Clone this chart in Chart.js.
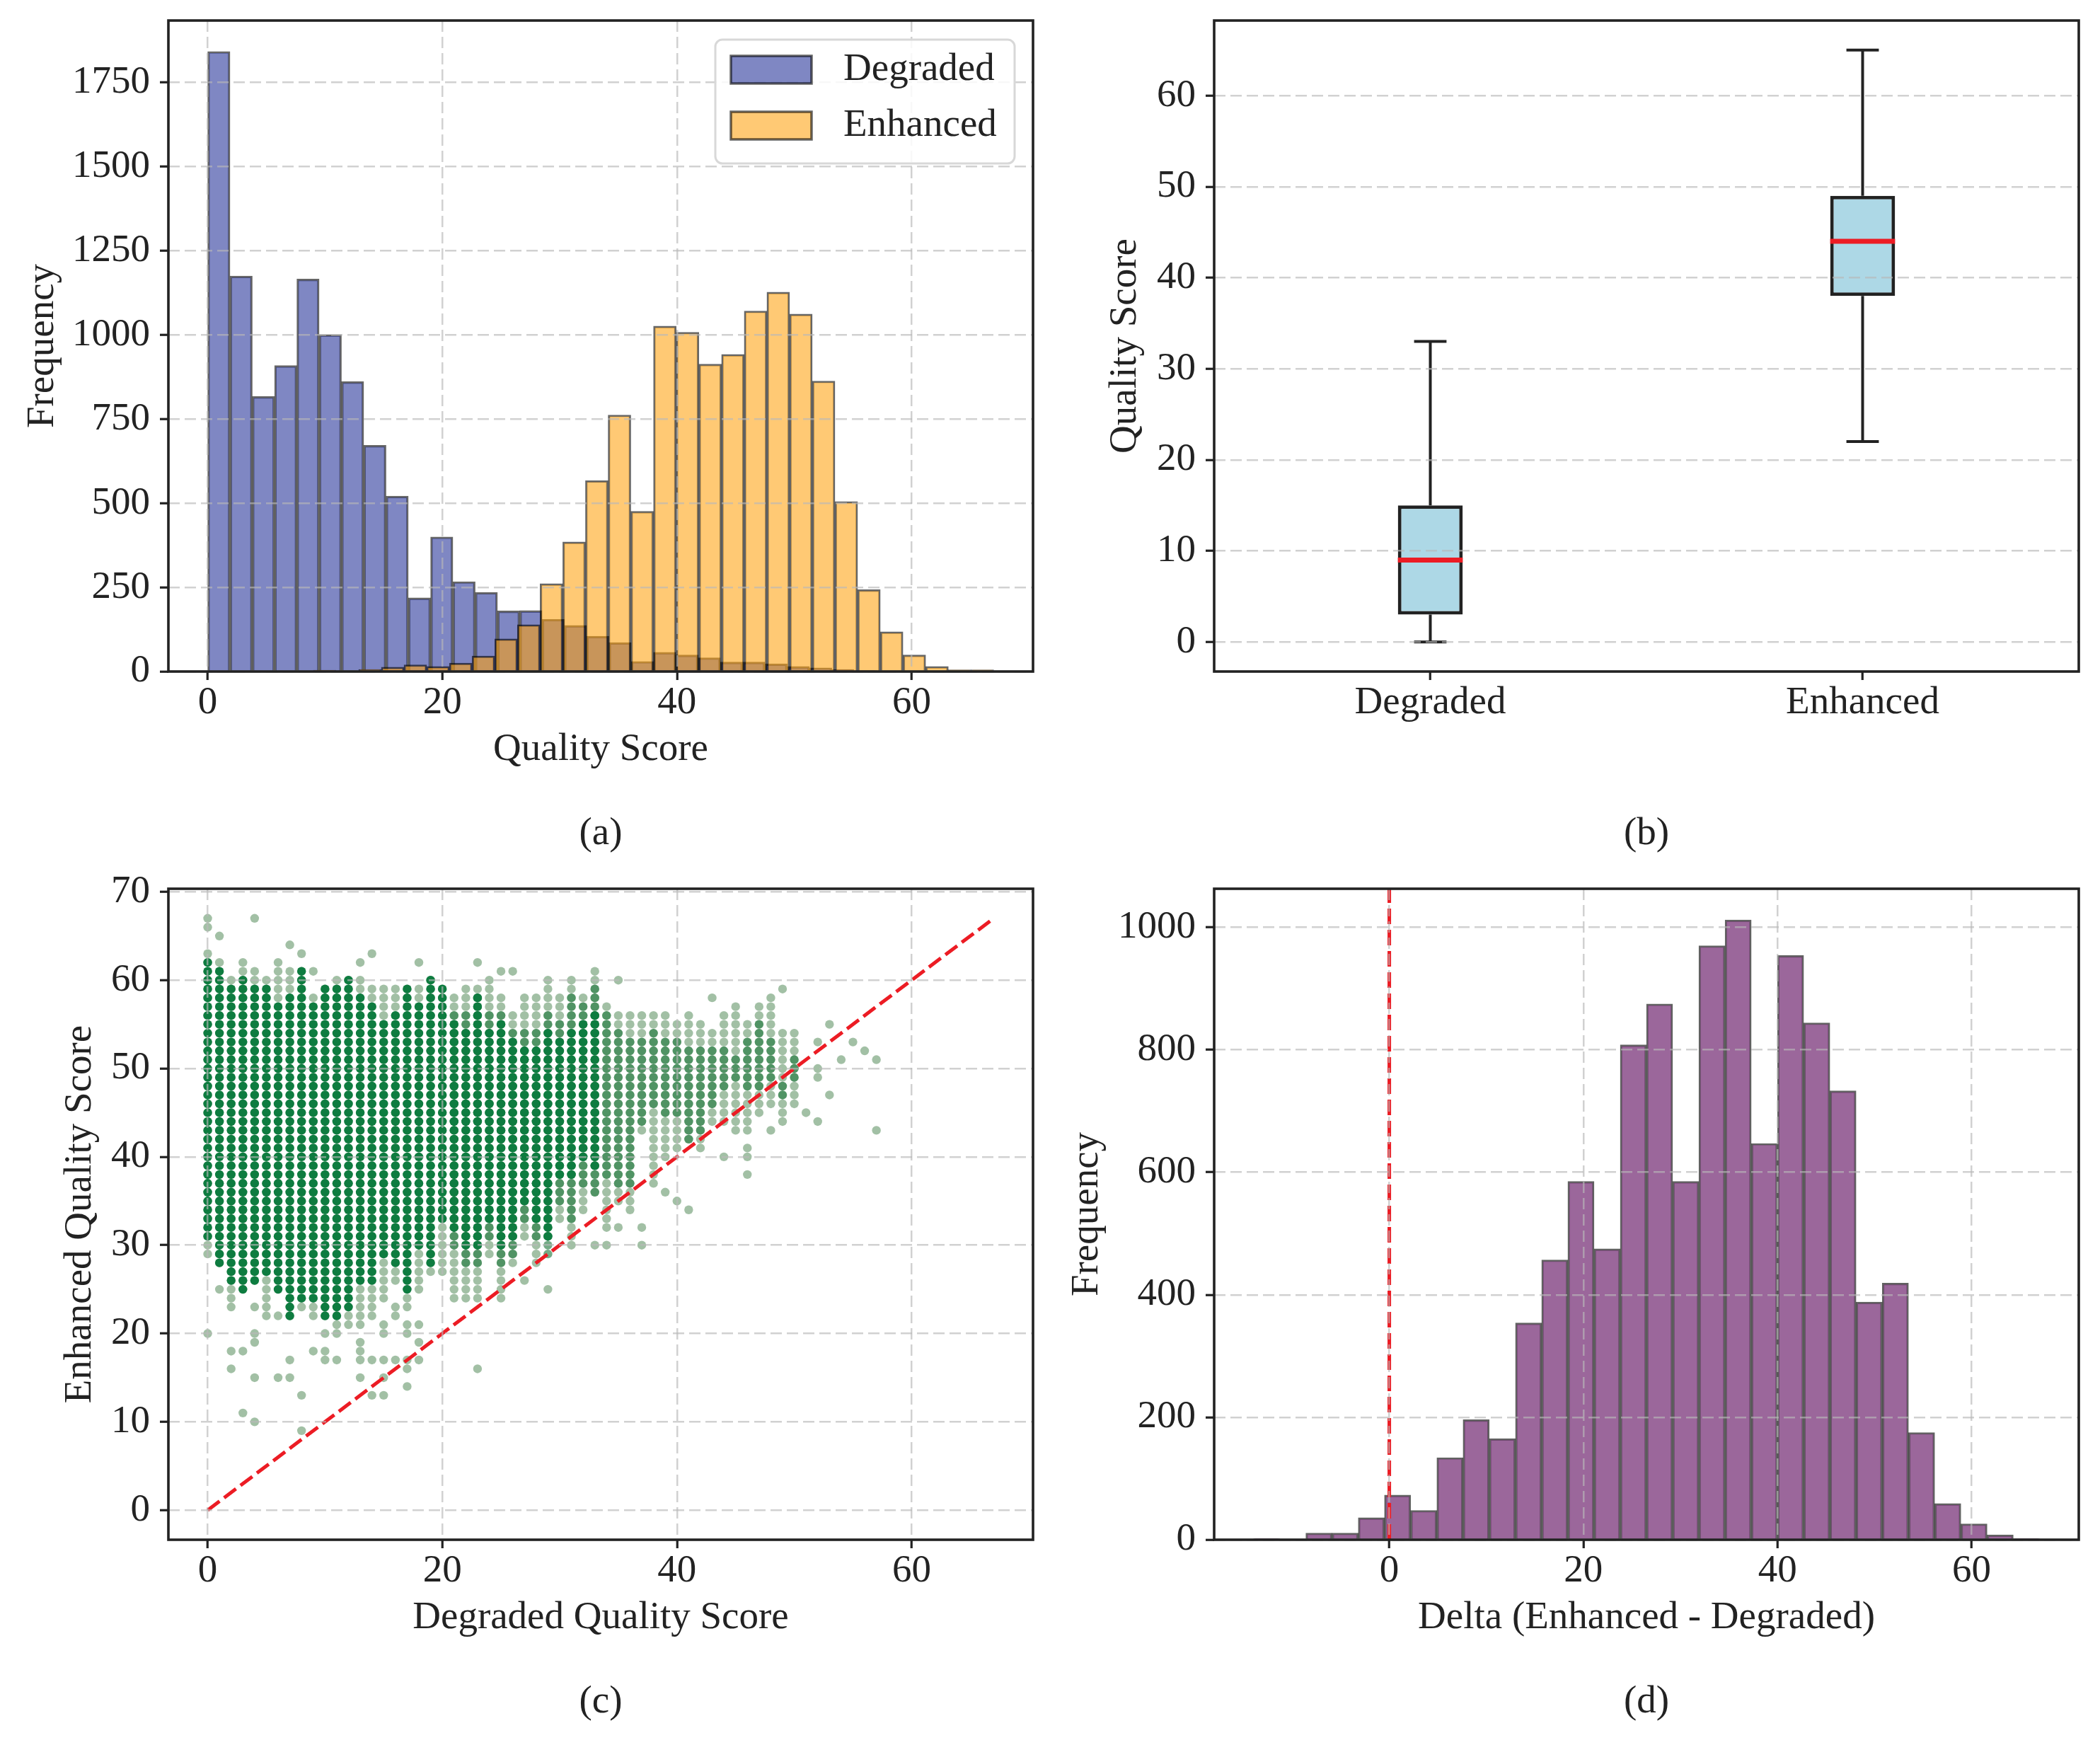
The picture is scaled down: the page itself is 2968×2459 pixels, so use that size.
<!DOCTYPE html>
<html>
<head>
<meta charset="utf-8">
<title>Quality score comparison</title>
<script src="https://cdn.jsdelivr.net/npm/chart.js@4.4.1/dist/chart.umd.min.js"></script>
<style>
  html, body { margin: 0; padding: 0; background: #ffffff; }
  #page { position: relative; width: 2968px; height: 2459px; background: #ffffff; }
  .panel { position: absolute; }
</style>
</head>
<body>
<div id="page">
  <div class="panel" style="left:0px;top:0px"><canvas id="chartA" width="1484" height="1230"></canvas></div>
  <div class="panel" style="left:1484px;top:0px"><canvas id="chartB" width="1484" height="1230"></canvas></div>
  <div class="panel" style="left:0px;top:1227px"><canvas id="chartC" width="1484" height="1232"></canvas></div>
  <div class="panel" style="left:1484px;top:1227px"><canvas id="chartD" width="1484" height="1232"></canvas></div>
</div>
<script>
// ---- (a) histogram of quality scores (30 bins each) ----
const DEGRADED_START = 0;
const DEGRADED_BIN = 1.9;
const degradedCounts = [1842, 1175, 817, 909, 1166, 1001, 861, 672, 521, 219,
                        400, 267, 235, 180, 181, 155, 137, 105, 86, 30,
                        57, 49, 41, 28, 28, 23, 15, 11, 6, 3];
const ENHANCED_START = 9;
const ENHANCED_BIN = 58 / 30;
const enhancedCounts = [4, 2, 6, 13, 20, 15, 25, 46, 97, 139,
                        261, 385, 567, 762, 476, 1026, 1008, 913, 942, 1071,
                        1127, 1062, 863, 505, 243, 118, 49, 15, 5, 5];
const scoreTicks = [0, 20, 40, 60];
const freqTicksA = [0, 250, 500, 750, 1000, 1250, 1500, 1750];

// ---- (b) box plot ----
const boxLabels = ['Degraded', 'Enhanced'];
const whiskerLow = [0, 22];
const quart1 = [3, 38];
const medians = [9, 44];
const quart3 = [15, 49];
const whiskerHigh = [33, 65];
const boxTicks = [0, 10, 20, 30, 40, 50, 60];

// ---- (c) scatter: scores sit on an integer grid, read column by column ----
// sparse = single (light) points, mid = a few overlapping, dense = many overlapping
const colX =       [ 0,  1,  2,  3,  4,  5,  6,  7,  8,  9, 10, 11, 12, 13, 14, 15, 16, 17, 18, 19, 20, 21, 22, 23, 24, 25,
                    26, 27, 28, 29, 30, 31, 32, 33, 34, 35, 36, 37, 38, 39, 40, 41, 42, 43, 44, 45, 46, 47, 48, 49, 50];
const sparseLow =  [29, 28, 23, 25, 26, 22, 25, 22, 23, 22, 22, 20, 21, 21, 22, 24, 26, 23, 25, 27, 27, 24, 24, 24, 29, 24,
                    28, 31, 28, 31, 33, 30, 34, 36, 32, 35, 34, 43, 37, 40, 41, 42, 41, 44, 44, 43, 43, 45, 46, 44, 46];
const sparseHigh = [63, 62, 60, 62, 61, 60, 62, 61, 61, 58, 59, 60, 60, 60, 59, 59, 59, 59, 59, 60, 59, 58, 59, 59, 60, 58,
                    56, 58, 58, 60, 58, 60, 58, 61, 57, 56, 56, 56, 56, 56, 55, 56, 55, 54, 56, 57, 55, 57, 58, 54, 54];
const midLow =     [null, null, null, null, null, null, null, null, null, null, null, null, null, null, null, null, null, null, null, null,
                    null, 30, 28, 28, 31, 28, 29, 33, 31, 29, 35, 33, 37, 36, 38, 37, 37, 44, 46, 45, 45, 42, 43, 46, 48, 49, 48, 48, 49, 47, 49];
const midHigh =    [null, null, null, null, null, null, null, null, null, null, null, null, null, null, null, null, null, null, null, null,
                    null, 56, 56, 58, 56, 56, 54, 54, 54, 56, 55, 58, 57, 59, 56, 54, 53, 53, 54, 53, 53, 52, 52, 52, 52, 51, 53, 55, 53, 48, 51];
const denseLow =   [31, 28, 26, 25, 26, 27, 25, 22, 24, 24, 22, 22, 23, 26, 26, 29, 28, 25, 30, 28, 33, 32, 30, 30, 33, 30,
                    31, 35, 33, 31, 38, 38, 40, 39, null, null, null, null, null, null, null, null, null, null, null, null, null, null, null, null, null];
const denseHigh =  [62, 61, 59, 60, 59, 59, 57, 58, 61, 57, 59, 59, 60, 58, 57, 55, 56, 59, 57, 60, 59, 55, 54, 58, 54, 55,
                    53, 52, 52, 54, 53, 54, 55, 56, null, null, null, null, null, null, null, null, null, null, null, null, null, null, null, null, null];
const outlierX = [0, 0, 0, 1, 1, 2, 2, 3, 3, 4, 4, 4, 4, 4, 4, 6, 6, 7, 7, 7, 8, 8, 8, 9, 9, 10, 10, 10, 11,
                  13, 13, 13, 13, 13, 14, 14, 14, 15, 15, 15, 15, 15, 16, 16, 16, 17, 17, 17, 17, 17, 18, 18, 18, 18,
                  23, 23, 25, 26, 27, 29, 33, 34, 35, 35, 37, 37, 39, 40, 41, 43, 44, 46, 46, 46, 48, 49,
                  51, 52, 52, 52, 52, 53, 53, 54, 55, 56, 57, 57];
const outlierY = [66, 67, 20, 65, 25, 18, 16, 18, 11, 67, 23, 20, 19, 15, 10, 22, 15, 64, 17, 15, 63, 13, 9, 61, 18, 20, 18, 17, 17,
                  62, 19, 18, 17, 15, 63, 17, 13, 21, 20, 17, 15, 13, 23, 22, 17, 21, 20, 17, 16, 14, 62, 21, 19, 17,
                  62, 16, 61, 61, 26, 25, 30, 30, 60, 32, 32, 30, 36, 35, 34, 58, 40, 41, 40, 38, 43, 59,
                  45, 53, 50, 49, 44, 55, 47, 51, 53, 52, 51, 43];
const identityLine = [0, 67];
const axisTicksC = [0, 20, 40, 60];
const yTicksC = [0, 10, 20, 30, 40, 50, 60, 70];

// ---- (d) histogram of deltas ----
const DELTA_START = -14;
const DELTA_BIN = 2.7;
const deltaCounts = [2, 0, 11, 11, 36, 73, 48, 134, 196, 165,
                     354, 457, 585, 475, 808, 875, 585, 970, 1012, 647,
                     954, 844, 733, 388, 419, 175, 59, 26, 8, 2];
const deltaTicks = [0, 20, 40, 60];
const freqTicksD = [0, 200, 400, 600, 800, 1000];

// ---- styling ----
const FONT = "'Liberation Serif', 'Times New Roman', serif";
const INK = '#222222';
const GRID = 'rgba(185,185,185,0.65)';
const RED = '#ec1c24';

Chart.defaults.font.family = FONT;
Chart.defaults.font.size = 55;
Chart.defaults.color = INK;
Chart.defaults.animation = false;

function histPoints(start, width, counts) {
    return counts.map((c, i) => ({ x: start + (i + 0.5) * width, y: c }));
}

function columnPoints(lows, highs) {
    const pts = [];
    colX.forEach((x, i) => {
        if (lows[i] === null) return;
        for (let y = lows[i]; y <= highs[i]; y++) pts.push({ x: x, y: y });
    });
    return pts;
}

// one linear axis with matplotlib-like looks, sizes fixed so the plot boxes line up
function axis(o) {
    const horizontal = o.pos === 'bottom';
    return {
        type: 'linear',
        position: o.pos,
        min: o.min,
        max: o.max,
        offset: false,
        afterBuildTicks: s => { s.ticks = o.ticks.map(v => ({ value: v })); },
        afterFit: s => {
            if (horizontal) s.height = o.size; else s.width = o.size;
            s.paddingTop = 0;
            s.paddingBottom = 0;
            s.paddingLeft = 0;
            s.paddingRight = 0;
        },
        grid: {
            display: true,
            drawOnChartArea: o.grid !== false,
            color: GRID,
            lineWidth: 2.5,
            z: 1,
            offset: false,
            drawTicks: true,
            tickLength: 12,
            tickWidth: 3.2,
            tickColor: INK,
            tickBorderDash: []
        },
        border: { display: false, dash: [16, 7] },
        ticks: {
            color: INK,
            padding: horizontal ? 0 : 14,
            maxRotation: 0,
            autoSkip: false,
            font: { size: 55, lineHeight: 1.2 },
            callback: o.label || (v => String(v))
        },
        title: {
            display: true,
            text: o.title,
            color: INK,
            font: { size: 55, lineHeight: 1.2 },
            padding: horizontal ? { top: 0, bottom: 53 } : { top: o.titlePad, bottom: 0 }
        }
    };
}

function panelTitle(text) {
    return {
        display: true,
        text: text,
        position: 'bottom',
        fullSize: false,
        padding: 0,
        color: INK,
        font: { size: 55, weight: 'normal', lineHeight: 1.2 }
    };
}

const framePlugin = {
    id: 'frame',
    afterDraw(chart) {
        const { ctx, chartArea: a } = chart;
        ctx.save();
        ctx.strokeStyle = INK;
        ctx.lineWidth = 3.6;
        ctx.strokeRect(a.left, a.top, a.right - a.left, a.bottom - a.top);
        ctx.restore();
    }
};

// legend box sits inside the plot, top right
const legendInside = {
    id: 'legendInside',
    afterDraw(chart) {
        const { ctx, chartArea: a } = chart;
        const w = 423, h = 175;
        const left = a.right - 26 - w;
        const top = a.top + 27;
        ctx.save();
        ctx.beginPath();
        if (ctx.roundRect) ctx.roundRect(left, top, w, h, 10); else ctx.rect(left, top, w, h);
        ctx.fillStyle = 'rgba(255,255,255,0.85)';
        ctx.fill();
        ctx.lineWidth = 3;
        ctx.strokeStyle = '#d8d8d8';
        ctx.stroke();
        chart.data.datasets.forEach((ds, i) => {
            const y = top + 23 + i * 79;
            ctx.fillStyle = ds.backgroundColor;
            ctx.fillRect(left + 22, y, 114, 39);
            ctx.lineWidth = 3.5;
            ctx.strokeStyle = ds.borderColor;
            ctx.strokeRect(left + 22, y, 114, 39);
            ctx.fillStyle = INK;
            ctx.font = '55px ' + FONT;
            ctx.textBaseline = 'middle';
            ctx.textAlign = 'left';
            ctx.fillText(ds.label, left + 181, y + 20);
        });
        ctx.restore();
    }
};

const padTop = { left: 0, right: 24, top: 29, bottom: 18 };
const padTopRight = { left: 0, right: 30, top: 29, bottom: 18 };
const padBottom = { left: 0, right: 24, top: 29, bottom: 20 };
const padBottomRight = { left: 0, right: 30, top: 29, bottom: 20 };

// ---- (a) ----
new Chart(document.getElementById('chartA'), {
    type: 'bar',
    data: {
        datasets: [
            {
                label: 'Degraded',
                data: histPoints(DEGRADED_START, DEGRADED_BIN, degradedCounts),
                xAxisID: 'x',
                backgroundColor: 'rgba(0,15,135,0.5)',
                borderColor: 'rgba(0,0,0,0.6)',
                borderWidth: 2.5,
                grouped: false,
                barPercentage: 1,
                categoryPercentage: 1,
                order: 1
            },
            {
                label: 'Enhanced',
                data: histPoints(ENHANCED_START, ENHANCED_BIN, enhancedCounts),
                xAxisID: 'x2',
                backgroundColor: 'rgba(255,160,10,0.57)',
                borderColor: 'rgba(0,0,0,0.6)',
                borderWidth: 2.5,
                grouped: false,
                barPercentage: 1,
                categoryPercentage: 1,
                order: 0
            }
        ]
    },
    options: {
        responsive: false,
        animation: false,
        layout: { padding: padTop },
        plugins: { legend: { display: false }, tooltip: { enabled: false }, title: panelTitle('(a)') },
        scales: {
            x: axis({ pos: 'bottom', min: -3.35, max: 70.35, ticks: scoreTicks, title: 'Quality Score', size: 197 }),
            x2: { type: 'linear', display: false, min: -3.35, max: 70.35, offset: false },
            y: axis({ pos: 'left', min: 0, max: 1934, ticks: freqTicksA, title: 'Frequency', size: 238, titlePad: 28 })
        }
    },
    plugins: [framePlugin, legendInside]
});

// ---- (b) ----
const BOX_HALF = 0.075;
const CAP_HALF = 0.0375;
const gap = i => ({ x: i + 1, y: null });
const whiskerPts = [];
const capPts = [];
const medianPts = [];
boxLabels.forEach((_, i) => {
    const c = i + 1;
    whiskerPts.push({ x: c, y: whiskerLow[i] }, { x: c, y: quart1[i] }, gap(i),
                    { x: c, y: quart3[i] }, { x: c, y: whiskerHigh[i] }, gap(i));
    capPts.push({ x: c - CAP_HALF, y: whiskerLow[i] }, { x: c + CAP_HALF, y: whiskerLow[i] }, gap(i),
                { x: c - CAP_HALF, y: whiskerHigh[i] }, { x: c + CAP_HALF, y: whiskerHigh[i] }, gap(i));
    medianPts.push({ x: c - BOX_HALF, y: medians[i] }, { x: c + BOX_HALF, y: medians[i] }, gap(i));
});

new Chart(document.getElementById('chartB'), {
    type: 'bar',
    data: {
        datasets: [
            {
                type: 'scatter',
                data: medianPts,
                showLine: true,
                spanGaps: false,
                pointRadius: 0,
                borderColor: RED,
                borderWidth: 7,
                order: 0
            },
            {
                data: boxLabels.map((_, i) => ({ x: i + 1, y: [quart1[i], quart3[i]] })),
                backgroundColor: '#add8e6',
                borderColor: INK,
                borderWidth: 5,
                borderSkipped: false,
                grouped: false,
                barPercentage: 0.15,
                categoryPercentage: 1,
                order: 1
            },
            {
                type: 'scatter',
                data: whiskerPts,
                showLine: true,
                spanGaps: false,
                pointRadius: 0,
                borderColor: INK,
                borderWidth: 4,
                order: 2
            },
            {
                type: 'scatter',
                data: capPts,
                showLine: true,
                spanGaps: false,
                pointRadius: 0,
                borderColor: INK,
                borderWidth: 4,
                order: 2
            }
        ]
    },
    options: {
        responsive: false,
        animation: false,
        layout: { padding: padTopRight },
        plugins: { legend: { display: false }, tooltip: { enabled: false }, title: panelTitle('(b)') },
        scales: {
            x: axis({ pos: 'bottom', min: 0.5, max: 2.5, ticks: [1, 2], title: '', size: 197, grid: false,
                      label: v => boxLabels[v - 1] }),
            y: axis({ pos: 'left', min: -3.25, max: 68.25, ticks: boxTicks, title: 'Quality Score', size: 232, titlePad: 74 })
        }
    },
    plugins: [framePlugin]
});

// ---- (c) ----
const lightPts = columnPoints(sparseLow, sparseHigh);
outlierX.forEach((x, i) => lightPts.push({ x: x, y: outlierY[i] }));

new Chart(document.getElementById('chartC'), {
    type: 'scatter',
    data: {
        datasets: [
            {
                data: identityLine.map(v => ({ x: v, y: v })),
                showLine: true,
                pointRadius: 0,
                borderColor: RED,
                borderWidth: 5,
                borderDash: [21, 8],
                order: 0
            },
            {
                data: columnPoints(denseLow, denseHigh),
                pointRadius: 6.2,
                pointBorderWidth: 0,
                backgroundColor: 'rgb(14,124,64)',
                order: 1
            },
            {
                data: columnPoints(midLow, midHigh),
                pointRadius: 6.2,
                pointBorderWidth: 0,
                backgroundColor: 'rgba(30,120,60,0.62)',
                order: 2
            },
            {
                data: lightPts,
                pointRadius: 6.2,
                pointBorderWidth: 0,
                backgroundColor: 'rgba(100,150,105,0.6)',
                order: 3
            }
        ]
    },
    options: {
        responsive: false,
        animation: false,
        layout: { padding: padBottom },
        plugins: { legend: { display: false }, tooltip: { enabled: false }, title: panelTitle('(c)') },
        scales: {
            x: axis({ pos: 'bottom', min: -3.35, max: 70.35, ticks: axisTicksC, title: 'Degraded Quality Score', size: 197 }),
            y: axis({ pos: 'left', min: -3.35, max: 70.35, ticks: yTicksC, title: 'Enhanced Quality Score', size: 238, titlePad: 81 })
        }
    },
    plugins: [framePlugin]
});

// ---- (d) ----
new Chart(document.getElementById('chartD'), {
    type: 'bar',
    data: {
        datasets: [
            {
                type: 'scatter',
                data: [{ x: 0, y: 0 }, { x: 0, y: 1063 }],
                showLine: true,
                pointRadius: 0,
                borderColor: RED,
                borderWidth: 5,
                borderDash: [22, 8],
                order: 0
            },
            {
                data: histPoints(DELTA_START, DELTA_BIN, deltaCounts),
                backgroundColor: 'rgba(120,50,120,0.74)',
                borderColor: 'rgba(0,0,0,0.62)',
                borderWidth: 2.5,
                grouped: false,
                barPercentage: 1,
                categoryPercentage: 1,
                order: 1
            }
        ]
    },
    options: {
        responsive: false,
        animation: false,
        layout: { padding: padBottomRight },
        plugins: { legend: { display: false }, tooltip: { enabled: false }, title: panelTitle('(d)') },
        scales: {
            x: axis({ pos: 'bottom', min: -18.05, max: 71.05, ticks: deltaTicks, title: 'Delta (Enhanced - Degraded)', size: 197 }),
            y: axis({ pos: 'left', min: 0, max: 1063, ticks: freqTicksD, title: 'Frequency', size: 232, titlePad: 20 })
        }
    },
    plugins: [framePlugin]
});
</script>
</body>
</html>
